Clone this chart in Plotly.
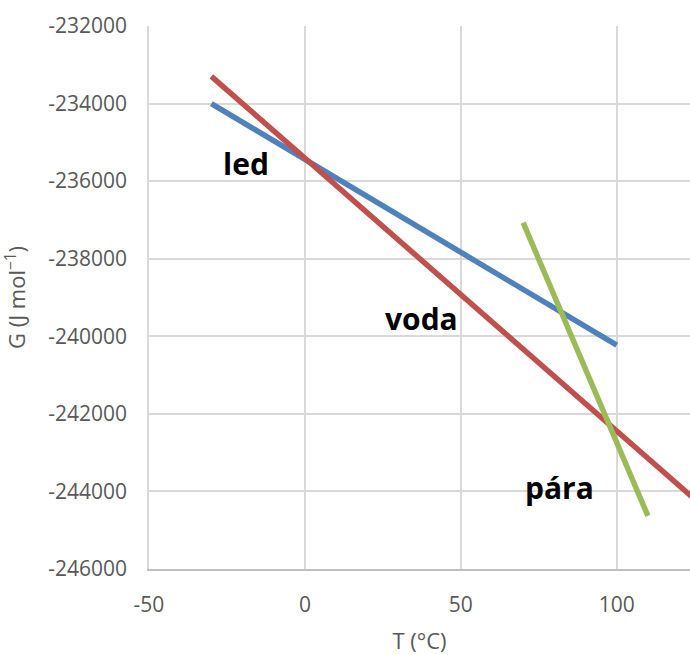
import plotly.graph_objects as go

# Data
led_T = [-30, 100]
led_G = [-234000, -240230]
voda_T = [-30, 130]
voda_G = [-233300, -244550]
para_T = [70, 110]
para_G = [-237070, -244630]

x_tickvals = [-50, 0, 50, 100]
x_ticktext = ["-50", "0", "50", "100"]
y_tickvals = [-246000, -244000, -242000, -240000, -238000, -236000, -234000, -232000]
y_ticktext = ["-246000", "-244000", "-242000", "-240000", "-238000", "-236000", "-234000", "-232000"]

labels = ["led", "voda", "pára"]
label_T = [-19, 37.5, 81.5]
label_G = [-235550, -239550, -243900]

fig = go.Figure()
fig.add_trace(go.Scatter(x=led_T, y=led_G, mode="lines",
                         line=dict(color="#4f81bd", width=5.5), name="led"))
fig.add_trace(go.Scatter(x=voda_T, y=voda_G, mode="lines",
                         line=dict(color="#c0504d", width=5.5), name="voda"))
fig.add_trace(go.Scatter(x=para_T, y=para_G, mode="lines",
                         line=dict(color="#9bbb59", width=5.5), name="pára"))

for t, x, y in zip(labels, label_T, label_G):
    fig.add_annotation(x=x, y=y, text="<b>%s</b>" % t, showarrow=False,
                       font=dict(family="Open Sans", size=30, color="#000000"),
                       xanchor="center", yanchor="middle")

fig.update_layout(
    width=690, height=655,
    margin=dict(l=149, r=0, t=26, b=86),
    paper_bgcolor="white", plot_bgcolor="white",
    showlegend=False,
    font=dict(family="Open Sans", size=21, color="#595959"),
)
fig.update_xaxes(range=[-50, 123.5], tickvals=x_tickvals, ticktext=x_ticktext,
                 showgrid=True, gridcolor="#d9d9d9", gridwidth=1.5,
                 showline=True, linecolor="#bfbfbf", linewidth=1.5,
                 zeroline=False, ticks="", ticklabelstandoff=16,
                 title=dict(text="T (°C)", font=dict(size=22, color="#595959"), standoff=20))
fig.update_yaxes(range=[-246000, -232000], tickvals=y_tickvals, ticktext=y_ticktext,
                 showgrid=True, gridcolor="#d9d9d9", gridwidth=1.5,
                 showline=True, linecolor="#d9d9d9", linewidth=1.5,
                 zeroline=False, ticks="", ticklabelstandoff=16,
                 title=dict(text="G (J mol<sup>−1</sup>)", font=dict(size=22, color="#595959"), standoff=24))

fig.write_html("out.html", config={"displayModeBar": False},
               post_script="document.body.style.margin='0';document.body.style.overflow='hidden';")
